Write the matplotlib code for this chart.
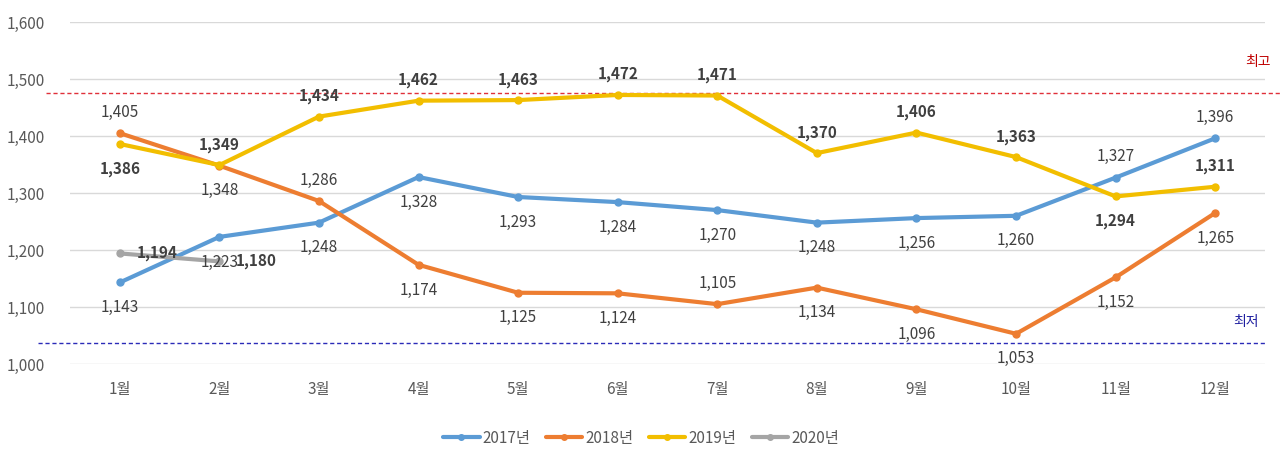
import matplotlib
matplotlib.use("Agg")
import matplotlib.pyplot as plt

plt.rcParams['font.family'] = ['Noto Sans CJK KR', 'DejaVu Sans']

months = ['1월', '2월', '3월', '4월', '5월', '6월', '7월', '8월', '9월', '10월', '11월', '12월']
y2017 = [1143, 1223, 1248, 1328, 1293, 1284, 1270, 1248, 1256, 1260, 1327, 1396]
y2018 = [1405, 1348, 1286, 1174, 1125, 1124, 1105, 1134, 1096, 1053, 1152, 1265]
y2019 = [1386, 1349, 1434, 1462, 1463, 1472, 1471, 1370, 1406, 1363, 1294, 1311]
y2020 = [1194, 1180]
series_names = ['2017년', '2018년', '2019년', '2020년']
max_line = 1475
min_line = 1037
yticks = [1000, 1100, 1200, 1300, 1400, 1500, 1600]

# label placement: 'a' above, 'b' below, 'r' right
pos2017 = ['b', 'b', 'b', 'b', 'b', 'b', 'b', 'b', 'b', 'b', 'a', 'a']
pos2018 = ['a', 'b', 'a', 'b', 'b', 'b', 'a', 'b', 'b', 'b', 'b', 'b']
pos2019 = ['b', 'a', 'a', 'a', 'a', 'a', 'a', 'a', 'a', 'a', 'b', 'a']
pos2020 = ['r', 'r']

colors = ['#5B9BD5', '#ED7D31', '#F2BE00', '#A5A5A5']
txtc = '#404040'

fig = plt.figure(figsize=(12.82, 4.5), dpi=100)
ax = fig.add_axes([70/1282, 1-364/450, (1265-70)/1282, (364-22)/450])

x = list(range(len(months)))
data = [y2017, y2018, y2019, y2020]
positions = [pos2017, pos2018, pos2019, pos2020]
bolds = [False, False, True, True]
zs = [3, 4, 5, 6]
for d, c, name, z in zip(data, colors, series_names, zs):
    ax.plot(x[:len(d)], d, color=c, lw=3, marker='o', ms=5, label=name, zorder=z,
            solid_capstyle='round')

for d, p, b in zip(data, positions, bolds):
    for i, (v, pp) in enumerate(zip(d, p)):
        if pp == 'a':
            off, ha, va = (0, 9), 'center', 'bottom'
        elif pp == 'b':
            off, ha, va = (0, -12), 'center', 'top'
        else:
            off, ha, va = (12, 0), 'left', 'center'
        ax.annotate(f'{v:,}', (i, v), xytext=off, textcoords='offset points',
                    ha=ha, va=va, fontsize=11, color=txtc,
                    fontweight='bold' if b else 'normal', zorder=10)

ax.set_xlim(-0.5, 11.5)
ax.set_ylim(1000, 1600)
ax.set_yticks(yticks)
ax.set_yticklabels([f'{t:,}' for t in yticks])
ax.set_xticks(x)
ax.set_xticklabels(months)
ax.grid(axis='y', color='#D9D9D9', lw=1)
ax.set_axisbelow(True)
for s in ax.spines.values():
    s.set_visible(False)
ax.tick_params(axis='both', length=0, labelsize=11, labelcolor='#595959')
ax.tick_params(axis='y', pad=18)
ax.tick_params(axis='x', pad=12)

# reference lines extending past axes
tr = ax.get_yaxis_transform()
ax.plot([-0.02, 1.02], [max_line, max_line], transform=tr, color='#E0303A', lw=1,
        ls=(0, (3, 2)), clip_on=False, zorder=2)
ax.plot([-0.027, 1.0], [min_line, min_line], transform=tr, color='#2B2BB8', lw=1,
        ls=(0, (3, 2)), clip_on=False, zorder=2)
ax.text(1.005, 1530, '최고', transform=tr, color='#C00000', fontsize=10, ha='right', va='center')
ax.text(0.995, 1073, '최저', transform=tr, color='#1F1FA0', fontsize=10, ha='right', va='center')

leg = fig.legend(loc='center', bbox_to_anchor=(0.5, 1-438/450), ncol=4, frameon=False,
                 fontsize=11, handlelength=2.4, columnspacing=1.0, handletextpad=0.2,
                 markerscale=0.8)
for t in leg.get_texts():
    t.set_color('#595959')

fig.savefig('out.png', dpi=100)
